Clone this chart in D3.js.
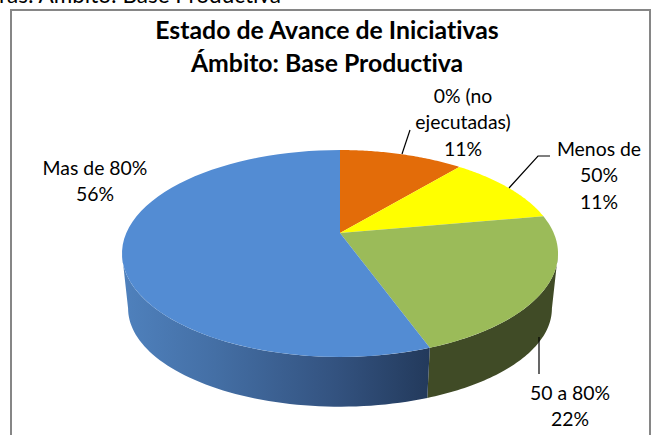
<!DOCTYPE html>
<html><head><meta charset="utf-8">
<script src="https://cdn.jsdelivr.net/npm/d3@7"></script>
<style>html,body{margin:0;padding:0;background:#fff}svg{display:block}text{font-family:Lato,"Open Sans",sans-serif;fill:#000;font-variant-ligatures:none}</style>
</head><body><div id="c"></div>
<script>
const categories = ["0% (no ejecutadas)", "Menos de 50%", "50 a 80%", "Mas de 80%"];
const values = [1, 1, 2, 5];
const percentLabels = ["11%", "11%", "22%", "56%"];
const topColors = ["#e36c09", "#ffff00", "#9bbb59", "#538cd3"];
const titleLines = ["Estado de Avance de Iniciativas", "Ámbito: Base Productiva"];
const clippedHeading = "ras: Ámbito: Base Productiva";
const labelLines = [["0% (no","ejecutadas)","11%"],["Menos de","50%","11%"],["50 a 80%","22%"],["Mas de 80%","56%"]];

const W=652,H=435;
const svg=d3.select("#c").append("svg").attr("width",W).attr("height",H);
const defs=svg.append("defs");
const grad=defs.append("linearGradient").attr("id","blueSide").attr("gradientUnits","userSpaceOnUse")
  .attr("x1",122).attr("x2",429).attr("y1",0).attr("y2",0);
[[0,"#4f81bd"],[0.3,"#446fa5"],[0.7,"#33527f"],[1,"#233a5c"]].forEach(s=>grad.append("stop").attr("offset",s[0]).attr("stop-color",s[1]));

// page heading cut by the window top
svg.append("text").attr("x",281).attr("y",3).attr("text-anchor","end").attr("font-size",22.5).text(clippedHeading);
// frame
svg.append("rect").attr("x",11).attr("y",10).attr("width",639).attr("height",440).attr("fill","#fff").attr("stroke","#868686").attr("stroke-width",2);

// perspective projection of the unit disc
const cx=340, apexY=233, c=0.198, h=99.4, k=213.7;
const project=a=>{const u=Math.sin(a),v=Math.cos(a),d=1+c*v;return [cx+k*u/d, apexY-h*v/d];};
const ellCy=252, depthY=55, botX=0.972, botY=0.95;
const projectBottom=a=>{const p=project(a);return [cx+(p[0]-cx)*botX, ellCy+depthY+(p[1]-ellCy)*botY];};
const arcs=d3.pie().sort(null).value(d=>d)(values);
const line=d3.line();
const samples=(a0,a1)=>d3.range(0,61).map(i=>a0+(a1-a0)*i/60);

// side wall
const extreme=Math.acos(-c);
const sideColor=["none","none","#404b26","url(#blueSide)"];
arcs.forEach((d,i)=>{
  const a0=Math.max(d.startAngle,extreme), a1=Math.min(d.endAngle,2*Math.PI-extreme);
  if(a1<=a0) return;
  const s=samples(a0,a1);
  svg.append("path").attr("fill",sideColor[i]).attr("d",line(s.map(project).concat(s.slice().reverse().map(projectBottom)))+"Z");
});
// top face
arcs.forEach((d,i)=>{
  const s=samples(d.startAngle,d.endAngle);
  svg.append("path").attr("fill",topColors[i]).attr("d",line([[cx,apexY]].concat(s.map(project)))+"Z");
});
// leader lines
const leaders=[[[402,154],[410,130]],[[509,188],[538,156],[550,156]],[[539,337],[539,374]]];
leaders.forEach(l=>svg.append("path").attr("d",line(l)).attr("fill","none").attr("stroke","#000").attr("stroke-width",1.2));

// title
const title=svg.append("g").attr("font-weight",700).attr("font-size",24.8).attr("text-anchor","middle");
titleLines.forEach((t,i)=>title.append("text").attr("x",327).attr("y",39+i*32.5).text(t));
// labels
const labelPos=[[463,103],[599,156],[570,400],[95,174.5]];
labelLines.forEach((ls,i)=>{
  const g=svg.append("g").attr("font-size",19.4).attr("text-anchor","middle");
  ls.forEach((t,j)=>g.append("text").attr("x",labelPos[i][0]).attr("y",labelPos[i][1]+j*26.4).text(t));
});
</script></body></html>
